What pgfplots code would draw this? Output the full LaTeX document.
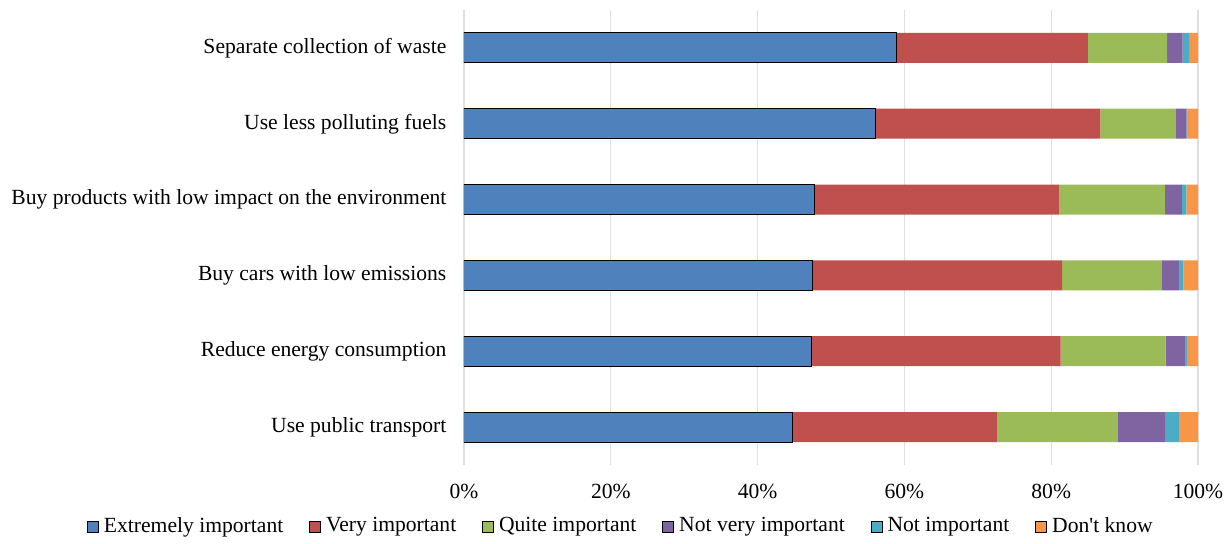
\documentclass[border=0pt]{standalone}
\usepackage{pgfplots}
\pgfplotsset{compat=1.18}
\usepackage{fontspec}
\setmainfont{Liberation Serif}
\definecolor{cblue}{HTML}{4F81BD}
\definecolor{cred}{HTML}{C0504D}
\definecolor{cgreen}{HTML}{9BBB59}
\definecolor{cpurple}{HTML}{8064A2}
\definecolor{cteal}{HTML}{4BACC6}
\definecolor{corange}{HTML}{F79646}
\begin{document}
\fontsize{10.8}{13}\selectfont
\begin{tikzpicture}
\begin{axis}[
    xbar stacked,
    scale only axis,
    width=367pt, height=227.5pt,
    bar width=15pt,
    xmin=0, xmax=100,
    ymin=-0.5, ymax=5.5,
    axis line style={draw=none},
    xmajorgrids,
    grid style={draw=gray!25, line width=0.6pt},
    xtick={0,20,40,60,80,100},
    xticklabel={\pgfmathprintnumber{\tick}\%},
    ytick={0,1,2,3,4,5},
    yticklabels={Use public transport, Reduce energy consumption, Buy cars with low emissions, Buy products with low impact on the environment, Use less polluting fuels, Separate collection of waste},
    tick style={draw=none},
    /pgf/number format/assume math mode=true,
    ticklabel style={font=\fontsize{10.8}{13}\selectfont},
    xticklabel style={yshift=-6pt},
    yticklabel style={xshift=-5pt},
    legend style={draw=none, legend columns=6, at={(0.215,-0.135)}, anchor=center,
        font=\fontsize{10.8}{13}\selectfont,
        /tikz/every odd column/.append style={column sep=0.5pt},
        /tikz/every even column/.append style={column sep=11pt}},
    legend image code/.code={\draw[#1] (0pt,-3.2pt) rectangle (5.5pt,2.3pt);},
]
\addplot[fill=cblue, draw=black, line width=0.5pt] coordinates {(44.7,0) (47.3,1) (47.5,2) (47.7,3) (56.0,4) (58.9,5)};
\addplot[fill=cred, draw=none] coordinates {(27.9,0) (34.0,1) (34.0,2) (33.4,3) (30.7,4) (26.1,5)};
\addplot[fill=cgreen, draw=none] coordinates {(16.5,0) (14.3,1) (13.5,2) (14.4,3) (10.3,4) (10.8,5)};
\addplot[fill=cpurple, draw=none] coordinates {(6.4,0) (2.7,1) (2.5,2) (2.3,3) (1.4,4) (2.1,5)};
\addplot[fill=cteal, draw=none] coordinates {(1.9,0) (0.2,1) (0.5,2) (0.6,3) (0.1,4) (0.9,5)};
\addplot[fill=corange, draw=none] coordinates {(2.6,0) (1.5,1) (2.0,2) (1.6,3) (1.5,4) (1.2,5)};
\legend{Extremely important, Very important, Quite important, Not very important, Not important, Don\textquotesingle t know}
\end{axis}
\path ([xshift=-232pt,yshift=-37pt]current axis.south west) rectangle ([xshift=16.5pt,yshift=5pt]current axis.north east);
\end{tikzpicture}
\end{document}
